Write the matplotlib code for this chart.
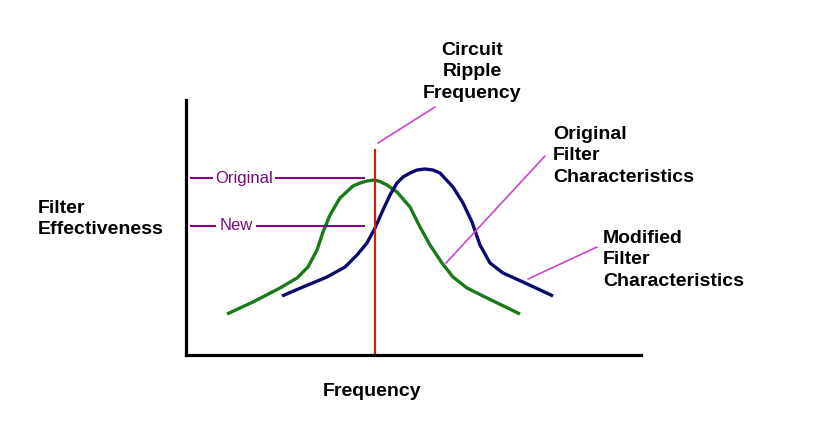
import matplotlib
matplotlib.use("Agg")
from matplotlib import pyplot as plt

plt.rcParams['font.family'] = ['Liberation Sans', 'DejaVu Sans']

# curves (frequency, effectiveness in arbitrary units)
original_x = [41, 67, 94, 111, 122, 131, 137, 144, 154, 167, 174, 181, 189, 195, 201, 211,
              224, 234, 244, 256, 267, 281, 301, 334]
original_y = [41, 53, 67, 77, 88, 105, 123, 140, 157, 169, 172, 174, 175, 173, 170, 163,
              148, 128, 110, 92, 78, 67, 57, 41]
modified_x = [96, 117, 141, 159, 171, 181, 189, 197, 204, 211, 217, 224, 231, 239, 247, 254,
              267, 277, 286, 294, 304, 317, 337, 367]
modified_y = [59, 68, 78, 88, 100, 112, 127, 145, 160, 172, 178, 182, 185, 186, 185, 182,
              168, 152, 133, 110, 92, 82, 73, 59]
ripple_freq = 189
ripple_top = 206
level_original = 177
level_new = 129

W, H = 815, 448
fig = plt.figure(figsize=(W / 100, H / 100), dpi=100)
ax = fig.add_axes([186 / W, 93 / H, 455 / W, 255 / H])
ax.set_xlim(0, 455)
ax.set_ylim(0, 255)
for s in ['top', 'right']:
    ax.spines[s].set_visible(False)
for s in ['left', 'bottom']:
    ax.spines[s].set_linewidth(2.3)
    ax.spines[s].set_color('black')
ax.set_xticks([])
ax.set_yticks([])
ax.patch.set_alpha(0)

ax.plot(original_x, original_y, color='#1a7a1a', lw=2.4, solid_capstyle='butt',
        solid_joinstyle='round')
ax.plot(modified_x, modified_y, color='#0a0a70', lw=2.4, solid_capstyle='butt',
        solid_joinstyle='round')
ax.vlines(ripple_freq, 0, ripple_top, color='#cc2211', lw=1.6)

purple = '#7a0a7a'
ax.hlines([level_original, level_new], 4, 179, color=purple, lw=1.5, clip_on=False)
ax.text(58, level_original, 'Original', color=purple, fontsize=12, ha='center',
        va='center', bbox=dict(fc='white', ec='none', pad=1.5))
ax.text(50, level_new, 'New', color=purple, fontsize=12, ha='center',
        va='center', bbox=dict(fc='white', ec='none', pad=2.5))

mag = '#cc44cc'
leaders = [((192, 212), (249, 248)), ((260, 92), (359, 199)), ((342, 76), (411, 108))]
for p, q in leaders:
    ax.annotate('', xy=p, xytext=q, arrowprops=dict(arrowstyle='-', color=mag, lw=1.2,
                shrinkA=0, shrinkB=0), annotation_clip=False)


def label(x, y, s, ha='left'):
    fig.text(x / W, 1 - y / H, s, fontsize=14, fontweight='bold', ha=ha, va='top',
             multialignment='center' if ha == 'center' else 'left', linespacing=1.34)


label(472, 42, 'Circuit\nRipple\nFrequency', ha='center')
label(553, 126, 'Original\nFilter\nCharacteristics')
label(603, 230, 'Modified\nFilter\nCharacteristics')
label(38, 200, 'Filter\nEffectiveness')
label(372, 383, 'Frequency', ha='center')

fig.savefig('out.png', dpi=100, facecolor='white')
